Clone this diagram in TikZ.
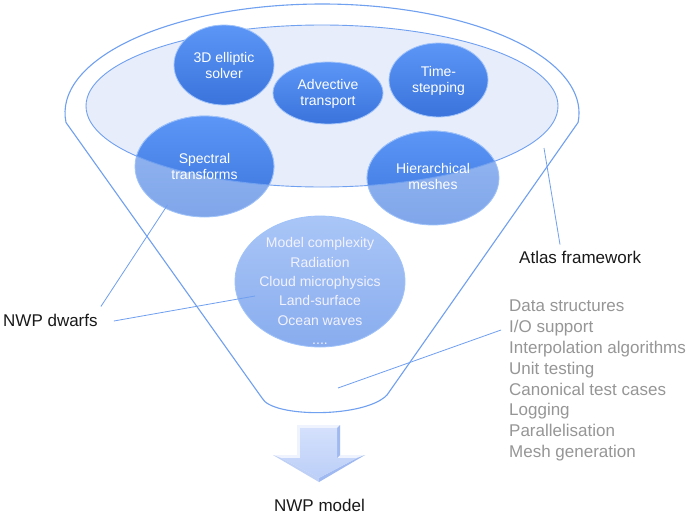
\documentclass[tikz,border=0pt]{standalone}
\usepackage{fontspec}
\setmainfont{Liberation Sans}
\usetikzlibrary{shapes.geometric,calc}
\definecolor{linec}{RGB}{112,160,240}
\definecolor{innerfill}{RGB}{232,237,251}
\definecolor{dtop}{RGB}{92,150,246}
\definecolor{dbot}{RGB}{58,116,220}
\definecolor{drim}{RGB}{160,195,250}
\definecolor{ltop}{RGB}{150,184,242}
\definecolor{lbot}{RGB}{128,166,234}
\definecolor{mtop}{RGB}{170,198,247}
\definecolor{mbot}{RGB}{136,172,238}
\definecolor{atop}{RGB}{212,224,252}
\definecolor{abot}{RGB}{188,207,248}
\definecolor{abev}{RGB}{238,243,254}
\definecolor{adark}{RGB}{160,185,240}
\definecolor{listgray}{RGB}{150,150,150}
\begin{document}
\begin{tikzpicture}[x=1pt,y=-1pt,
  funnel/.style={draw=linec, line width=1.1pt},
  conn/.style={draw=linec, line width=0.8pt},
  dark/.style={top color=dtop, bottom color=dbot, draw=drim, line width=0.8pt},
  light/.style={top color=ltop, bottom color=lbot, draw=drim, line width=0.8pt},
  mcshade/.style={top color=mtop, bottom color=mbot, draw=drim, line width=0.8pt},
  dtext/.style={ellipse, inner sep=0pt, align=center, text=white, font=\fontsize{14}{16}\selectfont},
  lab/.style={inner sep=0pt, font=\fontsize{17}{20}\selectfont, text=black!90}
]
\useasboundingbox (0,0) rectangle (690,514);
\fill[white] (0,0) rectangle (690,514);
% funnel outline
\draw[funnel] (66,122.5) arc[start angle=175, end angle=365, x radius=257, y radius=109]
  -- (387,395) .. controls (365,418) and (272,418) .. (262,398) -- cycle;
% inner ellipse
\fill[innerfill] (322,106) ellipse [x radius=236, y radius=81];
% two-tone ellipses
\path[light] (204.5,166.5) ellipse [x radius=69.5, y radius=50.5];
\path[light] (433,178) ellipse [x radius=66, y radius=47];
\begin{scope}
  \clip (322,106) ellipse [x radius=236, y radius=81];
  \path[dark] (204.5,166.5) ellipse [x radius=69.5, y radius=50.5];
  \path[dark] (433,178) ellipse [x radius=66, y radius=47];
\end{scope}
\draw[draw=linec, line width=0.9pt] (322,106) ellipse [x radius=236, y radius=81];
% inner dwarfs
\path[dark] (224,65) ellipse [x radius=50, y radius=40];
\path[dark] (328,93) ellipse [x radius=55, y radius=31];
\path[dark] (438.5,80) ellipse [x radius=49.5, y radius=37];
% model complexity
\path[mcshade] (320,281.5) ellipse [x radius=85, y radius=65.5];
% texts
\node[dtext] (ell) at (224,65) {3D elliptic\\solver};
\node[dtext] (adv) at (328,93.5) {Advective\\transport};
\node[dtext] (time) at (438.5,80.5) {Time-\\stepping};
\node[dtext] (spec) at (204.5,166) {Spectral\\transforms};
\node[dtext] (hier) at (433,176) {Hierarchical\\meshes};
\node[inner sep=0pt, align=center, text=white!95!blue, font=\fontsize{14}{19.3}\selectfont] (mc) at (320,291)
  {Model complexity\\Radiation\\Cloud microphysics\\Land-surface\\Ocean waves\\....};
% arrow (bevelled)
\fill[abev] (297,425) -- (340,425) -- (340,455) -- (365,455) -- (319,482) -- (273,455) -- (297,455) -- cycle;
\fill[adark] (337,428) -- (340,425) -- (340,455) -- (337,458) -- cycle;
\fill[adark] (365,455) -- (319,482) -- (319,478) -- (357,458) -- cycle;
\fill[adark!60!abev] (273,455) -- (319,482) -- (319,478) -- (281,458) -- cycle;
\path[top color=atop, bottom color=abot]
  (300,428) -- (337,428) -- (337,458) -- (357,458) -- (319,478) -- (281,458) -- (300,458) -- cycle;
% labels
\node[lab, anchor=west] (dwarfs) at (3,320) {NWP dwarfs};
\node[lab, anchor=west] (atlas) at (519,257) {Atlas framework};
\node[lab] (model) at (319.5,505) {NWP model};
\node[lab, anchor=north west, align=left, text=listgray, font=\fontsize{17}{20.8}\selectfont] (fw) at (509,300)
  {Data structures\\I/O support\\Interpolation algorithms\\Unit testing\\Canonical test cases\\Logging\\Parallelisation\\Mesh generation};
% connectors
\coordinate (d1) at ($(dwarfs.north east)+(3,-7)$);
\coordinate (d2) at ($(dwarfs.east)+(16,1)$);
\draw[conn] (d1) -- ($(spec.center)+(-37,39)$);
\draw[conn] (d2) -- ($(mc.center)+(-65,5)$);
\coordinate (atl) at (544,148);
\draw[conn] ($(atlas.north west)+(41,-6)$) -- (atl);
\coordinate (fwend) at (338,388);
\draw[conn] ($(fw.north west)+(-8,30)$) -- (fwend);
\end{tikzpicture}
\end{document}
